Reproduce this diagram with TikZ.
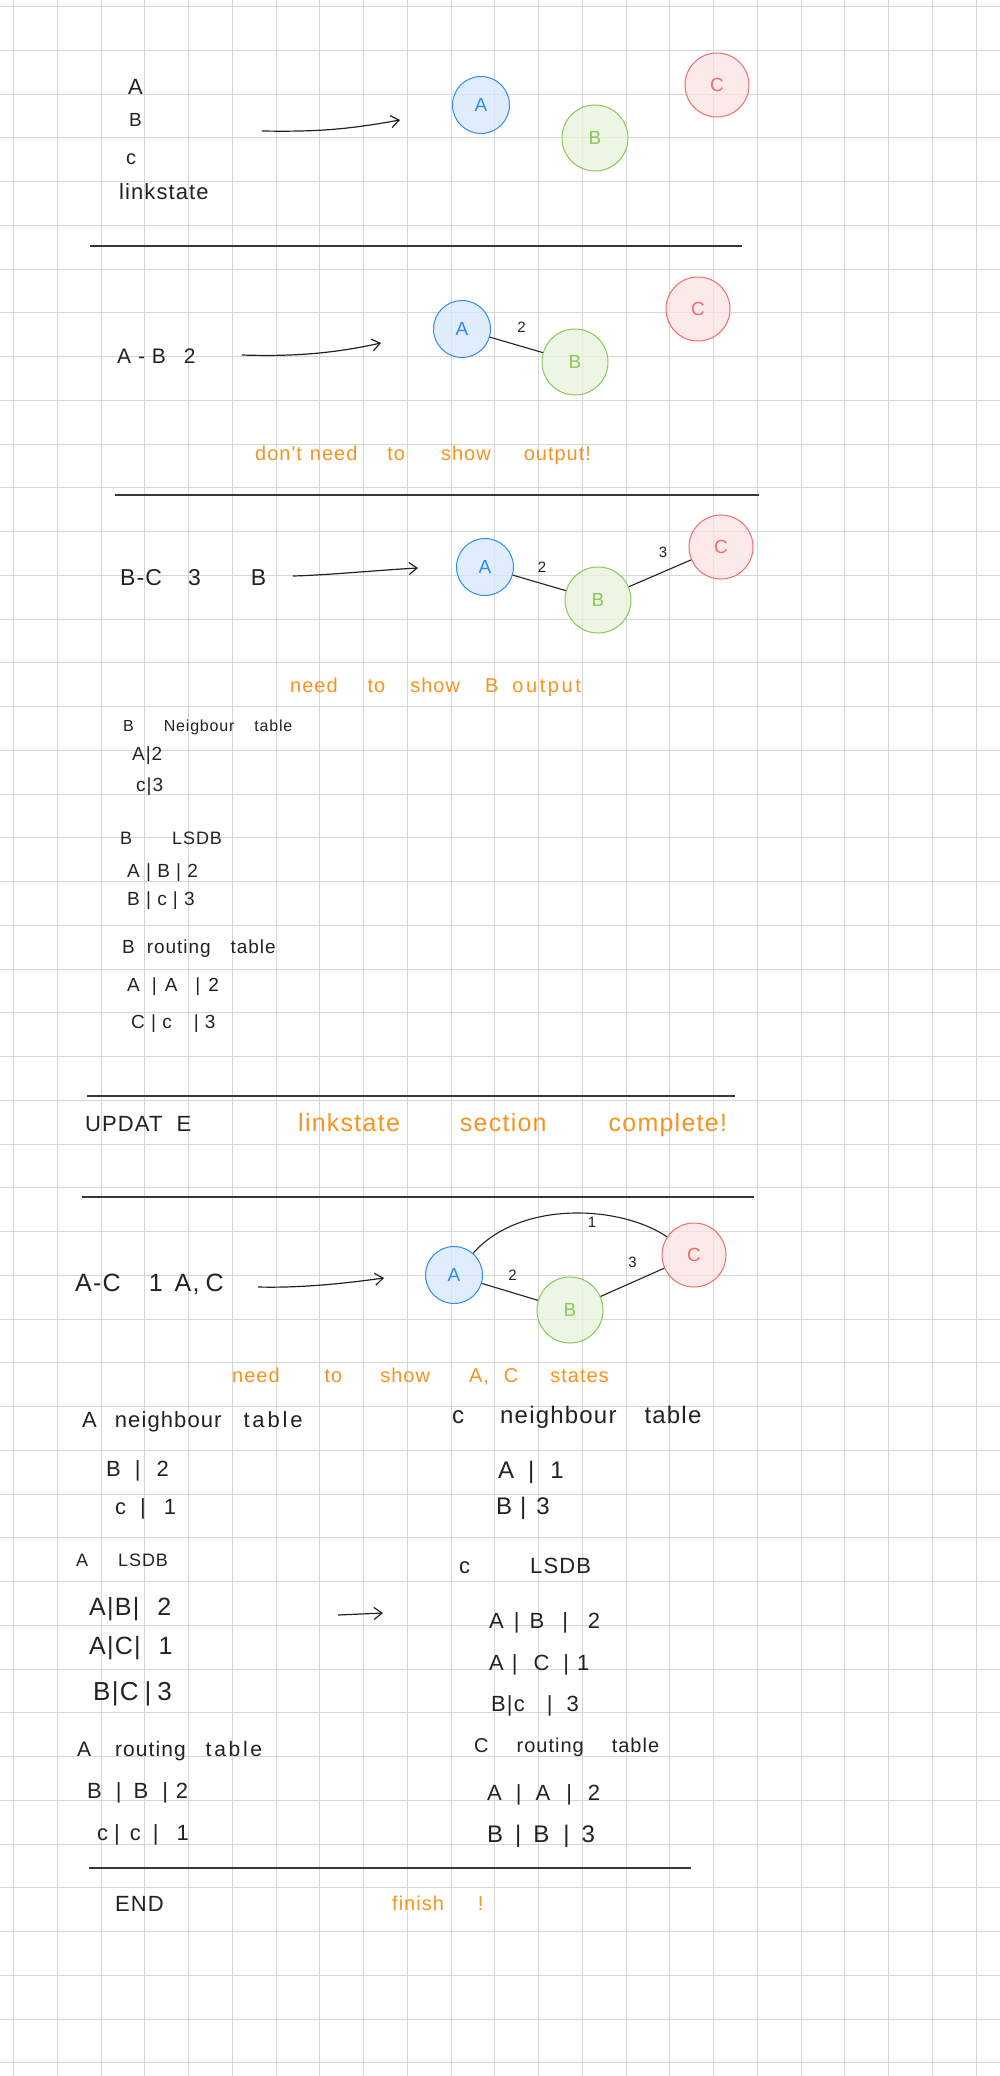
\documentclass[tikz,border=0pt]{standalone}
\usepackage{fontspec}
\usepackage{tikz}
\usetikzlibrary{arrows.meta, positioning, calc}
\newfontfamily\hand{Liberation Sans}[LetterSpace=5]
\definecolor{Ink}{RGB}{34,34,34}
\definecolor{NoteOrange}{RGB}{247,147,30}
\definecolor{GridGray}{RGB}{214,214,214}
\definecolor{RouterBlue}{RGB}{45,140,245}
\definecolor{RouterBlueFill}{RGB}{214,232,252}
\definecolor{RouterGreen}{RGB}{140,200,85}
\definecolor{RouterGreenFill}{RGB}{232,243,220}
\definecolor{RouterRed}{RGB}{240,108,108}
\definecolor{RouterRedFill}{RGB}{252,226,226}
\newcommand{\wgap}[1]{\hspace{#1pt}}
\newcommand{\wide}[1]{{\addfontfeature{LetterSpace=13}#1}}
\tikzset{
  ink/.style={font=\hand\fontsize{#1}{#1}\selectfont, text=Ink, anchor=base west, inner sep=0pt},
  ink/.default=20,
  note/.style={ink=#1, text=NoteOrange},
  note/.default=20,
  router/.style={circle, inner sep=0pt, line width=1pt, fill opacity=0.75, text opacity=1,
    font=\hand\fontsize{19}{19}\selectfont},
  routerA/.style={router, draw=RouterBlue, fill=RouterBlueFill, text=RouterBlue, minimum size=57pt},
  routerB/.style={router, draw=RouterGreen, fill=RouterGreenFill, text=RouterGreen, minimum size=66pt},
  routerC/.style={router, draw=RouterRed, fill=RouterRedFill, text=RouterRed, minimum size=64pt},
  link/.style={draw=Ink, line width=1.1pt},
  cost/.style={font=\hand\fontsize{15}{15}\selectfont, text=Ink, inner sep=1pt},
  handarrow/.style={draw=Ink, line width=1.2pt, -{Straight Barb[length=8pt,width=12pt]}},
  sepline/.style={draw=Ink!90, line width=1.5pt},
}
\begin{document}
\begin{tikzpicture}[x=1pt,y=-1pt]
  \useasboundingbox (0,0) rectangle (1000,2076);
  % grid paper
  \fill[white] (0,0) rectangle (1000,2076);
  \foreach \gx [evaluate=\gx as \px using {floor(13.5+43.75*\gx)+0.5}] in {0,...,22}
    \draw[GridGray, line width=1pt] (\px,0) -- ++(0,2076);
  \foreach \gy [evaluate=\gy as \py using {floor(6.7+43.75*\gy)+0.5}] in {0,...,47}
    \draw[GridGray, line width=1pt] (0,\py) -- ++(1000,0);

  % routers, no links yet
  \node[ink=22] (s1a) at (128,95) {A};
  \node[ink=19] (s1b) at (129,127) {B};
  \node[ink=20] (s1c) at (126,165) {c};
  \node[ink=22] (s1ls) at (119,200) {linkstate};
  \coordinate (s1from) at (262,131);
  \coordinate (s1to) at (400,120);
  \draw[handarrow] (s1from) .. controls (320,132) and (350,129) .. (s1to);
  \node[routerA] (a1) at (481,105) {A};
  \node[routerB] (b1) at (595,138) {B};
  \node[routerC] (c1) at (717,85) {C};
  \draw[sepline] (90,246) -- (742,246);

  % link A-B
  \node[ink=21] (s2cmd) at (117,363) {A - B\wgap{18}2};
  \coordinate (s2from) at (242,355);
  \coordinate (s2to) at (381,343);
  \draw[handarrow] (s2from) .. controls (300,357) and (340,352) .. (s2to);
  \node[routerA] (a2) at (462,329) {A};
  \node[routerB] (b2) at (575,362) {B};
  \node[routerC] (c2) at (698,309) {C};
  \draw[link] (a2) -- node[cost, above=12pt, pos=0.6] {2} (b2);
  \node[note=20] (s2note) at (255,460) {don't\wgap{8}need\wgap{30}to\wgap{36}show\wgap{33}output!};
  \draw[sepline] (115,495) -- (759,495);

  % link B-C, output of B
  \node[ink=23] (s3cmd) at (120,585) {B-C\wgap{26}3\wgap{50}B};
  \coordinate (s3from) at (293,576);
  \coordinate (s3to) at (418,568);
  \draw[handarrow] (s3from) .. controls (330,575) and (380,570) .. (s3to);
  \node[routerA] (a3) at (485,567) {A};
  \node[routerB] (b3) at (598,600) {B};
  \node[routerC] (c3) at (721,547) {C};
  \draw[link] (a3) -- node[cost, above=10pt, pos=0.55] {2} (b3);
  \draw[link] (b3) -- node[cost, above=13pt, pos=0.55] {3} (c3);
  \node[note=20] (s3note) at (290,692) {need\wgap{30}to\wgap{25}show\wgap{25}B\wgap{14}\wide{output}};

  \node[ink=16] (bnt) at (123,731) {B\wgap{30}Neigbour\wgap{20}table};
  \node[ink=19] (bnt1) at (132,760) {A|2};
  \node[ink=19] (bnt2) at (136,791) {c|3};
  \node[ink=18] (bls) at (120,844) {B\wgap{40}LSDB};
  \node[ink=19] (bls1) at (127,877) {A | B | 2};
  \node[ink=19] (bls2) at (127,905) {B | c | 3};
  \node[ink=19] (brt) at (122,953) {B\wgap{12}routing\wgap{20}table};
  \node[ink=19] (brt1) at (127,991) {A\wgap{12}|\wgap{8}A\wgap{18}|\wgap{8}2};
  \node[ink=19] (brt2) at (131,1028) {C | c\wgap{22}| 3};

  % update
  \draw[sepline] (87,1096) -- (735,1096);
  \node[ink=22] (upd) at (85,1131) {UPDAT\wgap{14}E};
  \node[note=25] (updnote) at (298,1131) {linkstate\wgap{60}section\wgap{62}complete!};
  \draw[sepline] (82,1197) -- (754,1197);

  % link A-C, states of A and C
  \node[ink=25] (s4cmd) at (75,1291) {A-C\wgap{28}1\wgap{12}A,\wgap{6}C};
  \coordinate (s4from) at (258,1287);
  \coordinate (s4to) at (384,1278);
  \draw[handarrow] (s4from) .. controls (300,1288) and (340,1284) .. (s4to);
  \node[routerA] (a4) at (454,1275) {A};
  \node[routerB] (b4) at (570,1310) {B};
  \node[routerC] (c4) at (694,1255) {C};
  \draw[link] (a4) -- node[cost, above=11pt, pos=0.55] {2} (b4);
  \draw[link] (b4) -- node[cost, above=13pt, pos=0.5] {3} (c4);
  \draw[link] (a4) .. controls (520,1200) and (620,1205) .. node[cost, below=2pt, pos=0.6] {1} (c4);
  \node[note=20] (s4note) at (232,1382) {need\wgap{45}to\wgap{38}show\wgap{39}A,\wgap{15}C\wgap{32}states};

  \node[ink=22] (ant) at (82,1427) {A\wgap{18}neighbour\wgap{22}\wide{table}};
  \node[ink=22] (ant1) at (106,1476) {B\wgap{14}|\wgap{16}2};
  \node[ink=22] (ant2) at (115,1514) {c\wgap{14}|\wgap{18}1};
  \node[ink=18] (als) at (76,1566) {A\wgap{30}LSDB};
  \node[ink=25] (als1) at (89,1615) {A|B|\wgap{18}2};
  \node[ink=25] (als2) at (89,1654) {A|C|\wgap{18}1};
  \node[ink=26] (als3) at (93,1700) {B|C\wgap{6}|\wgap{6}3};
  \coordinate (lsfrom) at (338,1615);
  \coordinate (lsto) at (383,1613);
  \draw[handarrow] (lsfrom) -- (lsto);
  \node[ink=21] (art) at (77,1756) {A\wgap{24}routing\wgap{20}\wide{table}};
  \node[ink=22] (art1) at (87,1798) {B\wgap{14}|\wgap{12}B\wgap{14}|\wgap{8}2};
  \node[ink=22] (art2) at (97,1840) {c\wgap{6}|\wgap{10}c\wgap{12}|\wgap{18}1};

  \node[ink=24] (cnt) at (452,1423) {c\wgap{36}neighbour\wgap{28}table};
  \node[ink=24] (cnt1) at (498,1478) {A\wgap{14}|\wgap{16}1};
  \node[ink=24] (cnt2) at (496,1514) {B\wgap{8}|\wgap{10}3};
  \node[ink=22] (cls) at (459,1573) {c\wgap{60}LSDB};
  \node[ink=22] (cls1) at (489,1628) {A\wgap{10}|\wgap{10}B\wgap{18}|\wgap{20}2};
  \node[ink=22] (cls2) at (489,1670) {A\wgap{8}|\wgap{16}C\wgap{14}|\wgap{8}1};
  \node[ink=22] (cls3) at (491,1711) {B|c\wgap{22}|\wgap{14}3};
  \node[ink=20] (crt) at (474,1752) {C\wgap{28}routing\wgap{28}table};
  \node[ink=22] (crt1) at (487,1800) {A\wgap{14}|\wgap{14}A\wgap{16}|\wgap{16}2};
  \node[ink=24] (crt2) at (487,1842) {B\wgap{12}|\wgap{12}B\wgap{14}|\wgap{12}3};

  % end
  \draw[sepline] (89,1868) -- (691,1868);
  \node[ink=22] (endmark) at (115,1911) {END};
  \node[note=20] (fin) at (392,1910) {finish\wgap{34}!};
\end{tikzpicture}
\end{document}
